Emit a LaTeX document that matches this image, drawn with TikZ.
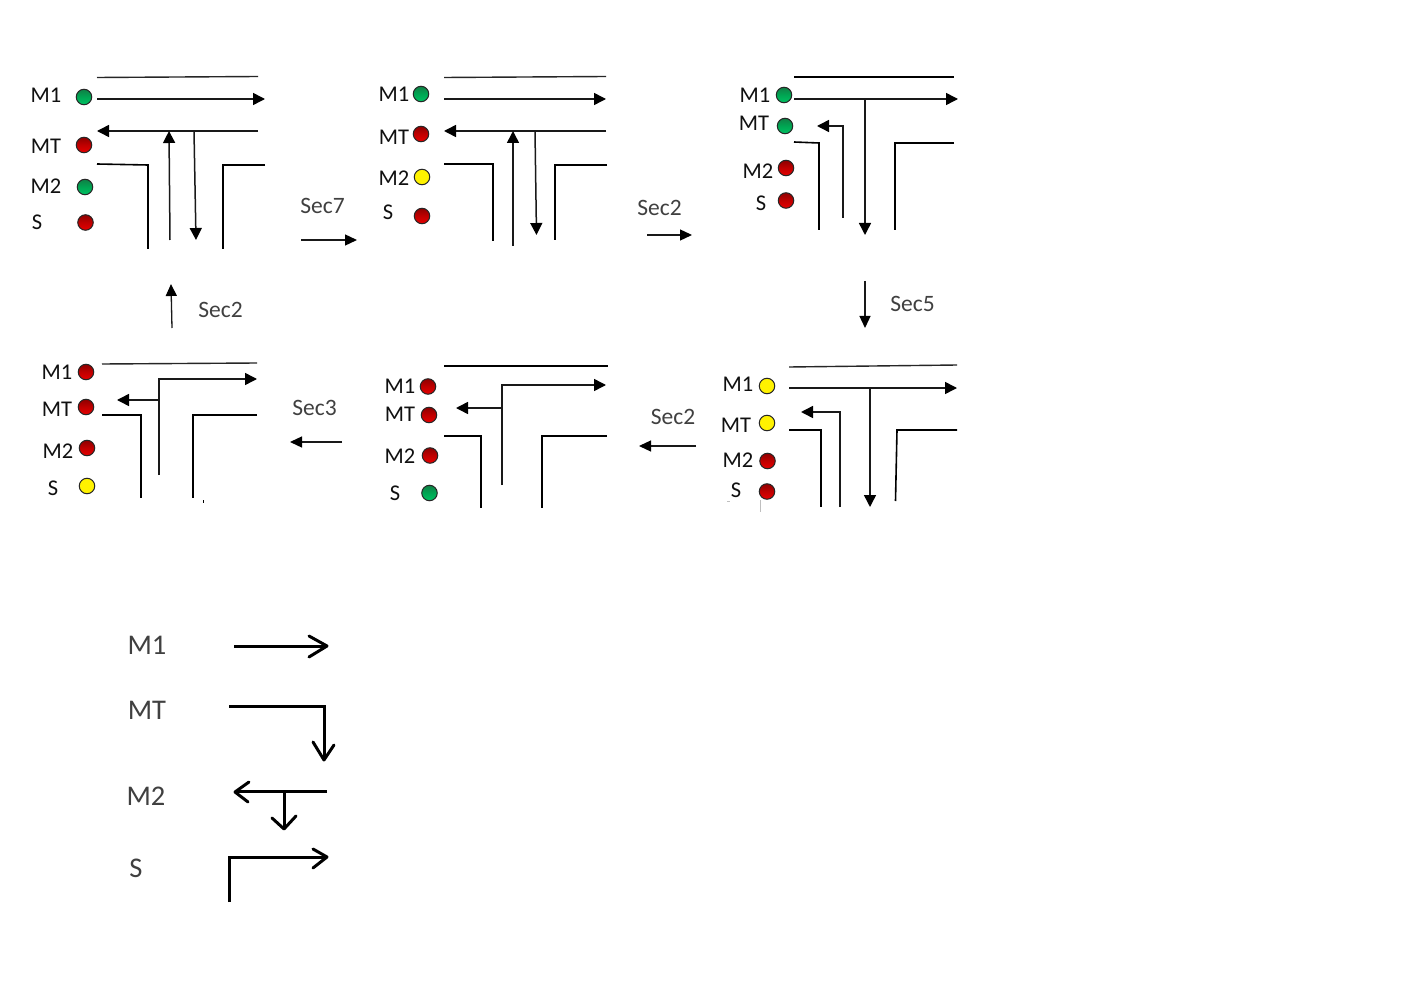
\documentclass[tikz,border=0pt]{standalone}
\usepackage{fontspec}
\setmainfont{Carlito}
\usetikzlibrary{arrows.meta}
\definecolor{lab}{HTML}{101010}
\definecolor{seclab}{HTML}{404040}
\definecolor{gtop}{HTML}{0F7F45}
\definecolor{gmid}{HTML}{00A653}
\definecolor{gbot}{HTML}{00C262}
\definecolor{rtop}{HTML}{8E0000}
\definecolor{rmid}{HTML}{C00000}
\definecolor{rbot}{HTML}{E60000}
\tikzset{
  road/.style={draw=black,line width=1.6pt},
  roadthin/.style={draw=black!85,line width=1.4pt},
  flow/.style={draw=black!90,line width=1.5pt,-{Triangle[length=12pt,width=12pt,color=black]}},
  trans/.style={draw=black!90,line width=1.3pt,-{Triangle[length=12pt,width=11pt,color=black]}},
  lampbase/.style={circle,draw=black!85,line width=1pt,minimum size=15.5pt,inner sep=0pt},
  lampR/.style={lampbase,top color=rtop,bottom color=rbot,middle color=rmid},
  lampG/.style={lampbase,top color=gtop,bottom color=gbot,middle color=gmid},
  lampY/.style={lampbase,fill=yellow},
  sig/.style={font=\fontsize{22.5}{22}\selectfont,text=lab,inner sep=0pt},
  seq/.style={font=\fontsize{23.5}{24}\selectfont,text=seclab,inner sep=0pt},
  leg/.style={font=\fontsize{28.5}{28}\selectfont,text=seclab,inner sep=0pt},
  legline/.style={draw=black,line width=3pt},
  open/.style={draw=black,line width=3pt,line cap=round,line join=round}
}
\begin{document}
\begin{tikzpicture}[x=1pt,y=-1pt]
\useasboundingbox[fill=white] (0,0) rectangle (1408,992);
% ---- panel 1
\node[sig] (a1) at (46,95) {M1}; \node[lampG] (al1) at (84,97) {};
\node[sig] (a2) at (46,146) {MT}; \node[lampR] (al2) at (84,145) {};
\node[sig] (a3) at (46,186) {M2}; \node[lampG] (al3) at (85,187) {};
\node[sig] (a4) at (37,222) {S}; \node[lampR] (al4) at (85.5,222.5) {};
\draw[roadthin] (97,77.5) -- (258,76.5);
\draw[flow] (97,99) -- (265,99);
\draw[flow] (258,131) -- (97,131);
\draw[flow] (170,240) -- (169,131);
\draw[flow] (194,131) -- (196,240);
\draw[road] (97,164) -- (148,165) -- (148,249);
\draw[road] (265,165) -- (223,165) -- (223,249);
% ---- panel 2
\node[sig] (b1) at (394,94) {M1}; \node[lampG] (bl1) at (421,94) {};
\node[sig] (b2) at (394,137) {MT}; \node[lampR] (bl2) at (421,134) {};
\node[sig] (b3) at (394,178) {M2}; \node[lampY] (bl3) at (422,177) {};
\node[sig] (b4) at (388,212) {S}; \node[lampR] (bl4) at (422,216) {};
\draw[roadthin] (444,77.5) -- (606,76.5);
\draw[flow] (444,99) -- (606,99);
\draw[flow] (606,131) -- (444,131);
\draw[flow] (513,246) -- (513,131);
\draw[flow] (535,131) -- (536.5,235);
\draw[road] (444,164) -- (493,164) -- (493,241);
\draw[road] (607,165) -- (555,165) -- (555,240);
% ---- panel 3
\node[sig] (c1) at (755,95) {M1}; \node[lampG] (cl1) at (784,95) {};
\node[sig] (c2) at (754,123) {MT}; \node[lampG] (cl2) at (785,126) {};
\node[sig] (c3) at (758,171) {M2}; \node[lampR] (cl3) at (786,168) {};
\node[sig] (c4) at (761,203) {S}; \node[lampR] (cl4) at (786,200.5) {};
\draw[road] (794,77) -- (954,77);
\draw[flow] (794,99) -- (958,99);
\draw[flow] (865,99) -- (865,235);
\draw[flow] (843,218) -- (843,126) -- (817,126);
\draw[road] (794,142) -- (819,143) -- (819,230);
\draw[road] (954,143) -- (895,143) -- (895,230);
% ---- panel 4
\node[sig] (d1) at (738,384) {M1}; \node[lampY] (dl1) at (767,386) {};
\node[sig] (d2) at (736,425) {MT}; \node[lampY] (dl2) at (767,423) {};
\node[sig] (d3) at (738,460) {M2}; \node[lampR] (dl3) at (767.5,461) {};
\node[sig] (d4) at (736,490) {S}; \node[lampR] (dl4) at (767,491.5) {};
\draw[roadthin] (789,367) -- (957,365);
\draw[flow] (789,388) -- (957,388);
\draw[flow] (870,388) -- (870,507);
\draw[flow] (840,507) -- (840,412) -- (801,412);
\draw[road] (789,430) -- (821,430) -- (821,507);
\draw[road] (957,430) -- (897,430) -- (895.5,501);
\draw[black!25,line width=0.8pt] (727,501) -- (730,501);
\draw[black!25,line width=0.8pt] (760,500) -- (760,512);
% ---- panel 5
\node[sig] (e1) at (400,386) {M1}; \node[lampR] (el1) at (428,386.5) {};
\node[sig] (e2) at (400,414) {MT}; \node[lampR] (el2) at (429,415) {};
\node[sig] (e3) at (400,456) {M2}; \node[lampR] (el3) at (430,455.5) {};
\node[sig] (e4) at (395,493) {S}; \node[lampG] (el4) at (429.5,493) {};
\draw[road] (444,366) -- (608,366);
\draw[flow] (502,485) -- (502,385) -- (606,385);
\draw[flow] (502,408) -- (456,408);
\draw[road] (444,436) -- (481,436) -- (481,508);
\draw[road] (607,436) -- (542,436) -- (542,508);
% ---- panel 6
\node[sig] (f1) at (57,372) {M1}; \node[lampR] (fl1) at (86,372) {};
\node[sig] (f2) at (57,409) {MT}; \node[lampR] (fl2) at (86,407) {};
\node[sig] (f3) at (58,451) {M2}; \node[lampR] (fl3) at (87,448) {};
\node[sig] (f4) at (53,488) {S}; \node[lampY] (fl4) at (87,486) {};
\draw[roadthin] (102,364) -- (257,363);
\draw[flow] (159,475) -- (159,379) -- (257,379);
\draw[flow] (159,400) -- (117,400);
\draw[road] (102,415) -- (141,415) -- (141,498);
\draw[road] (257,415) -- (193,415) -- (193,498);
\draw[black,line width=1pt] (203,500) -- (203,503);
% ---- transitions
\node[seq] (s7) at (322.5,206) {Sec7};
\draw[trans] (301,240) -- (357,240);
\node[seq] (s2a) at (659.5,207.5) {Sec2};
\draw[trans] (647,235) -- (692,235);
\node[seq] (s5) at (912.5,303.5) {Sec5};
\draw[trans] (865,281) -- (865,328);
\node[seq] (s2b) at (673,416.5) {Sec2};
\draw[trans] (696,446) -- (639,446);
\node[seq] (s3) at (314.5,407.5) {Sec3};
\draw[trans] (342,442) -- (290,442);
\node[seq] (s2c) at (220.5,309.5) {Sec2};
\draw[trans] (172,328) -- (171,284);
% ---- legend
\node[leg] (l1) at (147,645) {M1};
\node[leg] (l2) at (147,710) {MT};
\node[leg] (l3) at (146,796) {M2};
\node[leg] (l4) at (136,868) {S};
\draw[legline] (234,646) -- (327,646);
\draw[open] (309,636) -- (327,646) -- (309,657);
\draw[legline] (229,706) -- (324,706) -- (324,760);
\draw[open] (313,742) -- (324,760) -- (334,745);
\draw[legline] (327,791) -- (235,791);
\draw[open] (249,782) -- (235,792) -- (248,802);
\draw[legline] (284,791) -- (284,829);
\draw[open] (272,818) -- (284,829) -- (296,816);
\draw[legline] (229,902) -- (229,857) -- (327,857);
\draw[open] (313,849) -- (327,857) -- (313,868);
\end{tikzpicture}
\end{document}
